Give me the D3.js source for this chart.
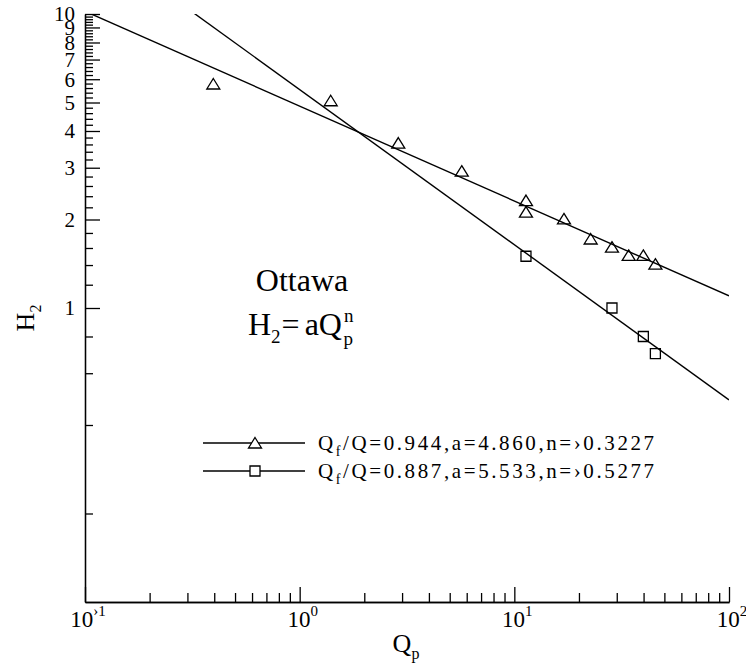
<!DOCTYPE html>
<html><head><meta charset="utf-8">
<script src="https://cdn.jsdelivr.net/npm/d3@7"></script>
<style>
body{margin:0;background:#fff}
svg text{font-family:'Liberation Serif','DejaVu Serif',serif;fill:#000}
</style>
</head><body><svg id="c" width="746" height="667" font-family="Liberation Serif, serif"></svg>
<script>
// ---- data ----
const triQ = [0.396, 1.395, 2.88, 5.69, 11.33, 11.33, 17.03, 22.68, 28.5, 34.1, 39.9, 45.4];
const triH = [5.78, 5.07, 3.64, 2.92, 2.32, 2.12, 2.01, 1.717, 1.61, 1.51, 1.51, 1.41];
const sqQ = [11.33, 28.5, 39.9, 45.4];
const sqH = [1.50, 1.00, 0.80, 0.70];
const fitRatio = ["0.944", "0.887"];
const fitA = [4.860, 5.533];
const fitN = [-0.3227, -0.5277];
const fitNText = ["›0.3227", "›0.5277"];
const xTickExps = [-1, 0, 1, 2];
const xTickSup = ["›1", "0", "1", "2"];
const yTickLabels = [1, 2, 3, 4, 5, 6, 7, 8, 9, 10];
const titleText = "Ottawa";

// ---- layout ----
const FONT = "'Liberation Serif', serif";
const svg = d3.select("#c");
const L = 85, R = 729, T = 14, B = 602;
const x = d3.scaleLog().domain([0.1, 100]).range([L, R]);
const y = d3.scaleLog().domain([0.1, 10]).range([B, T]);

svg.append("defs").append("clipPath").attr("id", "clip")
  .append("rect").attr("x", L).attr("y", T).attr("width", R - L).attr("height", B - T);

// x ticks
const xMajor = xTickExps.map(e => Math.pow(10, e));
const xMinor = [];
for (let e = -1; e < 2; e++) for (let k = 2; k <= 9; k++) xMinor.push(k * Math.pow(10, e));
function styleAxis(g){ g.selectAll("path,line").attr("stroke","#000").attr("stroke-width",1.3); g.selectAll("text").remove(); }
svg.append("g").attr("transform", `translate(0,${B})`)
  .call(d3.axisBottom(x).tickValues(xMinor).tickSize(-9).tickSizeOuter(0).tickFormat(""))
  .call(styleAxis);
svg.append("g").attr("transform", `translate(0,${B})`)
  .call(d3.axisBottom(x).tickValues(xMajor).tickSize(-15).tickSizeOuter(0).tickFormat(""))
  .call(styleAxis);

// y ticks
const yMajor = yTickLabels.slice();
const yMinor = [0.2, 0.4, 0.6, 0.8];
for (let i = 1; i < 10; i++) for (let k = 1; k <= 4; k++) yMinor.push(+(i + k * 0.2).toFixed(1));
svg.append("g").attr("transform", `translate(${L},0)`)
  .call(d3.axisLeft(y).tickValues(yMinor).tickSize(-8).tickSizeOuter(0).tickFormat(""))
  .call(styleAxis);
svg.append("g").attr("transform", `translate(${L},0)`)
  .call(d3.axisLeft(y).tickValues(yMajor).tickSize(-15).tickSizeOuter(0).tickFormat(""))
  .call(styleAxis);

function txt(sel){ return sel.attr("font-family", FONT).attr("fill", "#000"); }

// x tick labels
const xl = svg.append("g").selectAll("text").data(xMajor).join("text")
  .call(txt).attr("x", d => x(d) + 3).attr("y", 627).attr("text-anchor", "middle").attr("font-size", 23);
xl.append("tspan").text("10");
xl.append("tspan").attr("dy", -11).attr("font-size", 15).text((d, i) => xTickSup[i]);

// y tick labels
svg.append("g").selectAll("text").data(yMajor).join("text")
  .call(txt).attr("x", 75).attr("y", d => y(d)).attr("dy", "0.35em").attr("text-anchor", "end")
  .attr("font-size", 21).text(d => d);

// axis titles
const xt = svg.append("text").call(txt).attr("x", 406).attr("y", 652).attr("text-anchor", "middle").attr("font-size", 26);
xt.append("tspan").text("Q");
xt.append("tspan").attr("dy", 7).attr("font-size", 16).text("p");
const yt = svg.append("text").call(txt).attr("transform", "translate(34,318) rotate(-90)").attr("text-anchor", "middle").attr("font-size", 26);
yt.append("tspan").text("H");
yt.append("tspan").attr("dy", 7).attr("font-size", 16).text("2");

// fit lines
const plot = svg.append("g").attr("clip-path", "url(#clip)");
const line = d3.line().x(d => x(d[0])).y(d => y(d[1]));
fitA.forEach((a, i) => {
  const pts = [0.1, 100].map(q => [q, a * Math.pow(q, fitN[i])]);
  plot.append("path").attr("d", line(pts)).attr("fill", "none").attr("stroke", "#000").attr("stroke-width", 1.4);
});

// markers
const triPath = "M0,-5.5L6.5,5L-6.5,5Z";
const sqPath = "M-5,-5H5V5H-5Z";
svg.append("g").selectAll("path").data(triQ.map((q, i) => [q, triH[i]])).join("path")
  .attr("d", triPath).attr("transform", d => `translate(${x(d[0])},${y(d[1])})`)
  .attr("fill", "none").attr("stroke", "#000").attr("stroke-width", 1.3);
svg.append("g").selectAll("path").data(sqQ.map((q, i) => [q, sqH[i]])).join("path")
  .attr("d", sqPath).attr("transform", d => `translate(${x(d[0])},${y(d[1])})`)
  .attr("fill", "none").attr("stroke", "#000").attr("stroke-width", 1.3);

// annotation
svg.append("text").call(txt).attr("x", 302).attr("y", 291).attr("text-anchor", "middle").attr("font-size", 32).text(titleText);
const eq = svg.append("text").call(txt).attr("x", 248).attr("y", 335).attr("font-size", 32);
eq.append("tspan").text("H");
eq.append("tspan").attr("dy", 8).attr("font-size", 19).text("2");
eq.append("tspan").attr("dy", -8).attr("dx", 1).text("=");
eq.append("tspan").attr("dx", 5).text("aQ");
eq.append("tspan").attr("dx", 2).attr("dy", -13).attr("font-size", 19).text("n");
eq.append("tspan").attr("dx", -10).attr("dy", 23).attr("font-size", 19).text("p");

// legend
const legY = [443, 471];
const legPaths = [triPath, sqPath];
legY.forEach((ly, i) => {
  const g = svg.append("g");
  g.append("line").attr("x1", 203).attr("x2", 305).attr("y1", ly).attr("y2", ly).attr("stroke", "#000").attr("stroke-width", 1.3);
  g.append("path").attr("d", legPaths[i]).attr("transform", `translate(255,${ly})`).attr("fill", "#fff").attr("stroke", "#000").attr("stroke-width", 1.3);
  const t = g.append("text").call(txt).attr("x", 318).attr("y", ly + 7).attr("font-size", 21).attr("letter-spacing", 2.6);
  t.append("tspan").text("Q");
  t.append("tspan").attr("dy", 6).attr("font-size", 14).text("f");
  t.append("tspan").attr("dy", -6).text(`/Q=${fitRatio[i]},a=${fitA[i].toFixed(3)},n=${fitNText[i]}`);
});
</script></body></html>
